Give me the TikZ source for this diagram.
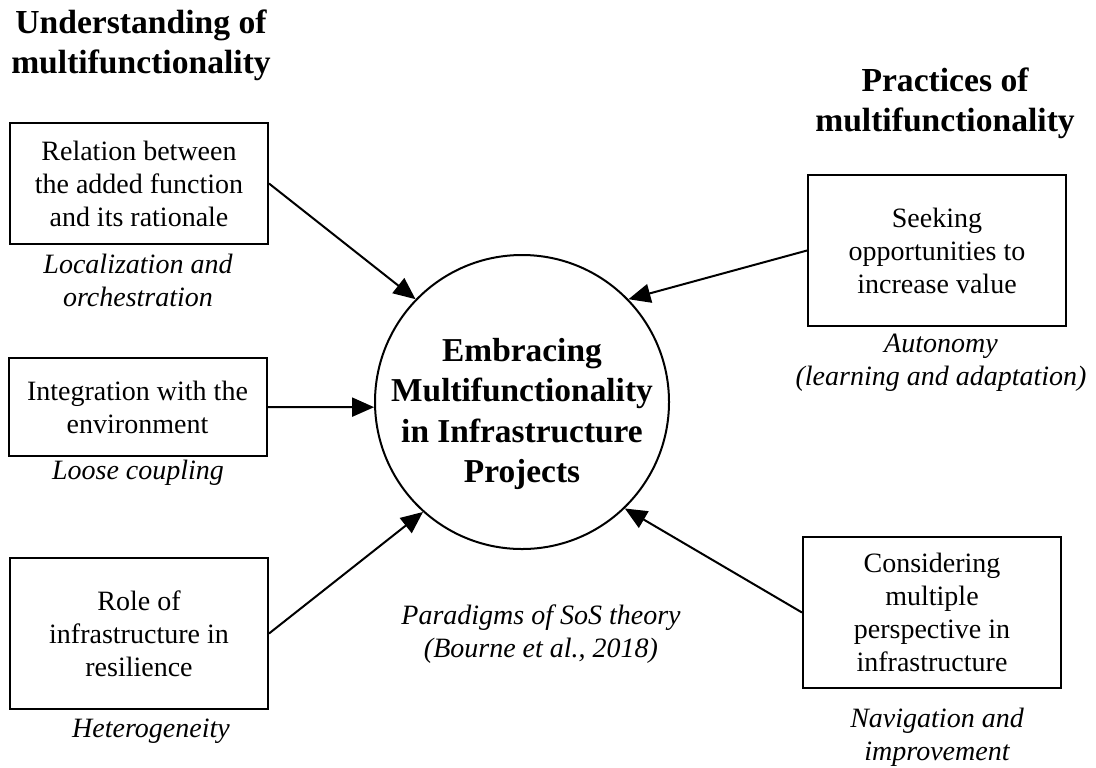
\documentclass[tikz,border=0pt]{standalone}
\usepackage{fontspec}
\setmainfont{Liberation Serif}
\usetikzlibrary{arrows.meta}
\begin{document}
\begin{tikzpicture}[x=0.5pt,y=-0.5pt,
  box/.style={draw, line width=1pt, minimum width=129pt, align=center, inner sep=0pt, font=\fontsize{14}{16.5}\selectfont},
  lbl/.style={align=center, font=\fontsize{14}{16.5}\selectfont\itshape, inner sep=0pt},
  head/.style={align=center, font=\fontsize{16.8}{20}\selectfont\bfseries, inner sep=0pt},
  circ/.style={draw, circle, line width=1pt, minimum size=147pt, inner sep=0pt},
  ctext/.style={align=center, inner sep=0pt, font=\fontsize{16.7}{20.3}\selectfont\bfseries},
  arr/.style={line width=1pt, -{Triangle[length=11pt,width=9.5pt]}}]
\useasboundingbox (0,0) rectangle (1096,767);
% headings
\node[head] (h1) at (141,45) {Understanding of\\multifunctionality};
\node[head] (h2) at (945,103) {Practices of\\multifunctionality};
% centre
\node[circ] (c) at (522,402) {};
\node[ctext] (ct) at (522,414) {Embracing\\Multifunctionality\\in Infrastructure\\Projects};
% left boxes
\node[box, minimum height=60.5pt] (b1) at (139,183.5) {Relation between\\the added function\\and its rationale};
\node[lbl] (l1) at (138,280) {Localization and\\orchestration};
\node[box, minimum height=49pt] (b2) at (137.5,407) {Integration with the\\environment};
\node[lbl] (l2) at (138,473) {Loose coupling};
\node[box, minimum height=75.5pt] (b3) at (139,633.5) {Role of\\infrastructure in\\resilience};
\node[lbl] (l3) at (151,731) {Heterogeneity};
% right boxes
\node[box, minimum height=75.5pt] (r1) at (937,250.5) {Seeking\\opportunities to\\increase value};
\node[lbl] (l4) at (941,363) {Autonomy\\(learning and adaptation)};
\node[box, minimum height=75.5pt] (r2) at (932,612.5) {Considering\\multiple\\perspective in\\infrastructure};
\node[lbl] (l5) at (937,737) {Navigation and\\improvement};
% paradigm label
\node[lbl] (pl) at (541,634) {Paradigms of SoS theory\\(Bourne et al., 2018)};
% arrows
\draw[arr] (b1.east) -- (c.136);
\draw[arr] (b2.east) -- (c.182);
\draw[arr] (b3.east) -- (c.228);
\draw[arr] (r1.west) -- (c.44);
\draw[arr] (r2.west) -- (c.314);
\end{tikzpicture}
\end{document}
